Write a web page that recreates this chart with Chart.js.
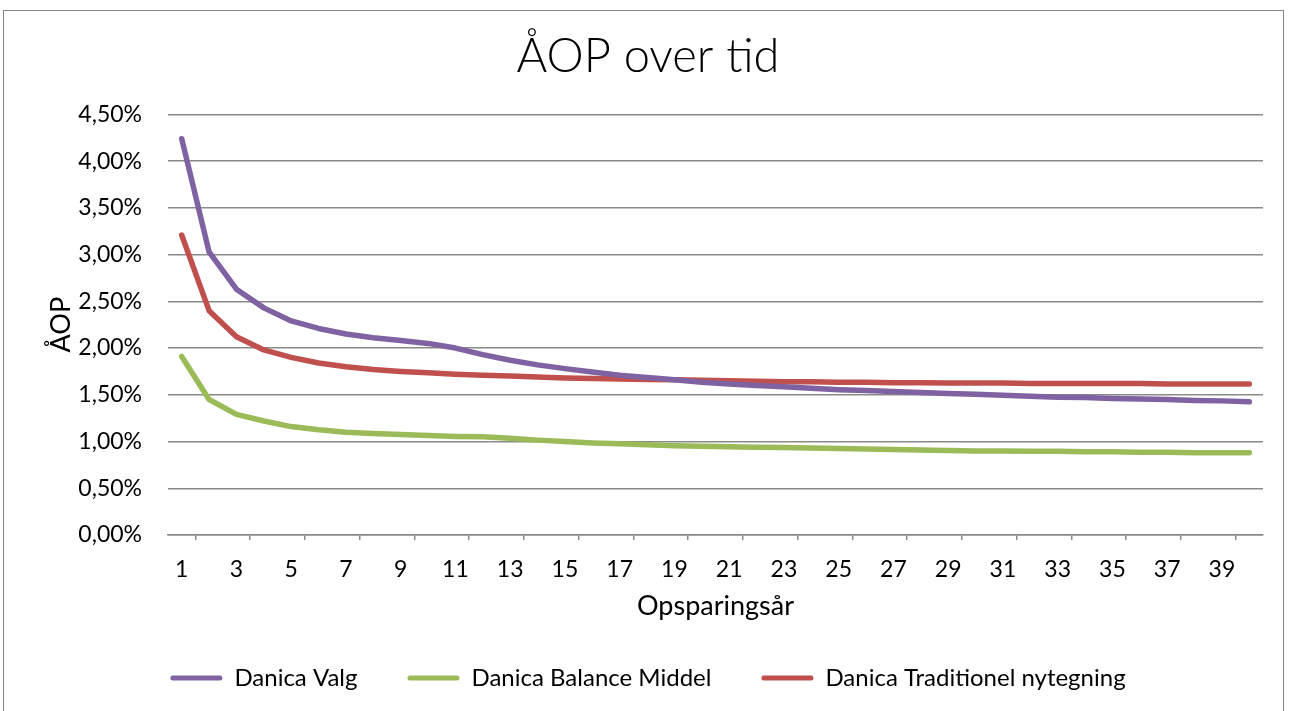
<!DOCTYPE html>
<html>
<head>
<meta charset="utf-8">
<style>
  body { margin: 0; background: #fff; }
  #frame { position: absolute; left: 3px; top: 10px; width: 1279px; height: 720px; border: 1px solid #868686; pointer-events: none; }
  canvas { position: absolute; left: 0; top: 0; }
</style>
</head>
<body>
<canvas id="aopChart" width="1290" height="711"></canvas>
<div id="frame"></div>

<script src="https://cdn.jsdelivr.net/npm/chart.js"></script>
<script>
  // Opsparingsår 1..40
  const years = ['1','2','3','4','5','6','7','8','9','10',
                 '11','12','13','14','15','16','17','18','19','20',
                 '21','22','23','24','25','26','27','28','29','30',
                 '31','32','33','34','35','36','37','38','39','40'];

  // ÅOP i procent
  const danicaValg = [4.24, 3.03, 2.63, 2.43, 2.29, 2.21, 2.15, 2.11, 2.08, 2.05,
                      2.00, 1.93, 1.87, 1.82, 1.78, 1.745, 1.71, 1.685, 1.66, 1.635,
                      1.615, 1.60, 1.585, 1.57, 1.555, 1.545, 1.535, 1.525, 1.515, 1.505,
                      1.495, 1.485, 1.475, 1.47, 1.46, 1.455, 1.45, 1.44, 1.435, 1.425];

  const danicaBalance = [1.91, 1.45, 1.29, 1.22, 1.16, 1.125, 1.10, 1.085, 1.075, 1.065,
                         1.055, 1.05, 1.035, 1.015, 1.00, 0.985, 0.975, 0.965, 0.955, 0.95,
                         0.945, 0.94, 0.935, 0.93, 0.925, 0.92, 0.915, 0.91, 0.905, 0.90,
                         0.90, 0.895, 0.895, 0.89, 0.89, 0.885, 0.885, 0.88, 0.88, 0.88];

  const danicaTrad = [3.21, 2.40, 2.12, 1.98, 1.90, 1.84, 1.80, 1.77, 1.75, 1.735,
                      1.72, 1.71, 1.70, 1.69, 1.68, 1.675, 1.67, 1.665, 1.66, 1.655,
                      1.65, 1.645, 1.64, 1.64, 1.635, 1.635, 1.63, 1.63, 1.625, 1.625,
                      1.625, 1.62, 1.62, 1.62, 1.62, 1.62, 1.615, 1.615, 1.615, 1.615];

  const seriesNames = ['Danica Valg', 'Danica Balance Middel', 'Danica Traditionel nytegning'];
  const seriesColors = ['#7f62a1', '#9bbb59', '#c0504d'];

  const yTicks = { min: 0, max: 4.5, step: 0.5 };

  const fontFamily = 'Lato, "Open Sans", sans-serif';
  const gridGrey = '#8a8a8a';

  const ctx = document.getElementById('aopChart').getContext('2d');
  new Chart(ctx, {
    type: 'line',
    data: {
      labels: years,
      datasets: [danicaValg, danicaBalance, danicaTrad].map((vals, i) => ({
        label: seriesNames[i],
        data: vals,
        borderColor: seriesColors[i],
        backgroundColor: seriesColors[i],
        borderWidth: 5.5,
        borderCapStyle: 'round',
        borderJoinStyle: 'round',
        pointRadius: 0,
        tension: 0
      }))
    },
    options: {
      responsive: false,
      animation: false,
      layout: { padding: { left: 6, right: 0, top: 0, bottom: 11 } },
      plugins: {
        title: {
          display: true,
          text: 'ÅOP over tid',
          color: '#000',
          font: { family: fontFamily, size: 47, weight: '300' },
          padding: { top: 29, bottom: 29 }
        },
        legend: {
          position: 'bottom',
          labels: {
            color: '#000',
            font: { family: fontFamily, size: 24 },
            boxWidth: 52,
            boxHeight: 5,
            padding: 50,
            useBorderRadius: true,
            borderRadius: 2.5,
            generateLabels: chart => Chart.defaults.plugins.legend.labels.generateLabels(chart)
              .map(item => Object.assign(item, { lineWidth: 0 }))
          }
        },
        tooltip: { enabled: false }
      },
      scales: {
        x: {
          offset: true,
          border: { display: true, color: gridGrey, width: 1.5 },
          grid: {
            offset: true,
            drawOnChartArea: false,
            drawTicks: true,
            tickLength: 5,
            lineWidth: 1.5,
            color: c => (c.index % 2 === 1 || c.index === years.length) ? gridGrey : 'rgba(0,0,0,0)'
          },
          ticks: {
            autoSkip: false,
            maxRotation: 0,
            padding: 16,
            color: '#000',
            font: { family: fontFamily, size: 23 },
            callback: (v, i) => (i % 2 === 0 ? years[i] : '')
          },
          title: {
            display: true,
            text: 'Opsparingsår',
            color: '#000',
            font: { family: fontFamily, size: 27, lineHeight: 0.74 },
            padding: { top: 0, bottom: 0 }
          },
          afterFit: scale => { scale.height = 81; }
        },
        y: {
          min: yTicks.min,
          max: yTicks.max,
          border: { display: false },
          grid: { color: gridGrey, lineWidth: 1.5, drawTicks: false },
          ticks: {
            stepSize: yTicks.step,
            padding: 26,
            color: '#000',
            font: { family: fontFamily, size: 23 },
            callback: v => v.toFixed(2).replace('.', ',') + '%'
          },
          title: {
            display: true,
            text: 'ÅOP',
            color: '#000',
            font: { family: fontFamily, size: 27 },
            padding: { top: 39, bottom: 0 }
          },
          afterFit: scale => { scale.width = 162; }
        },
        yRight: {
          position: 'right',
          display: true,
          grid: { display: false },
          border: { display: false },
          ticks: { display: false },
          afterFit: scale => { scale.width = 27; }
        }
      }
    }
  });
</script>
</body>
</html>
